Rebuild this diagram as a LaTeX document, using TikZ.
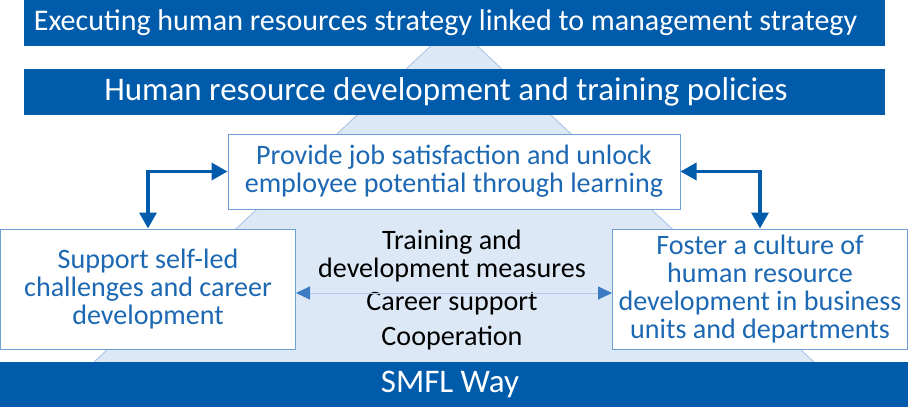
\documentclass[tikz,border=0pt]{standalone}
\usepackage{fontspec}
\setmainfont{Carlito}
\usepackage{tikz}
\usetikzlibrary{arrows.meta}
\usetikzlibrary{positioning}
\definecolor{smflblue}{HTML}{005BAB}
\definecolor{goaltext}{HTML}{1C68B3}
\definecolor{goalline}{HTML}{6E9FD6}
\definecolor{pyramid}{HTML}{DDE8F6}
\definecolor{pyramidedge}{HTML}{A6C1E5}
\definecolor{thinline}{HTML}{B3CBEB}
\definecolor{thintip}{HTML}{3A7BC4}

\begin{document}
\begin{tikzpicture}[x=1pt,y=-1pt,
        bar/.style={fill=smflblue, text=white, inner sep=0pt, minimum height=46pt,
            font=\fontsize{33}{33}\selectfont},
        goal/.style={draw=goalline, line width=1pt, fill=white, text=goaltext,
            align=center, inner sep=0pt, font=\fontsize{28.1}{28}\selectfont},
        link/.style={draw=smflblue, line width=3.5pt,
            {Triangle[length=16pt,width=17pt]}-{Triangle[length=16pt,width=17pt]}},
        thinlink/.style={draw=thinline, line width=1pt,
            {Triangle[length=14pt,width=13pt,color=thintip]}-{Triangle[length=14pt,width=13pt,color=thintip]}}
    ]
        \useasboundingbox (0,0) rectangle (908,407);
        % pyramid behind everything
        \draw[pyramidedge, fill=pyramid, line width=0.8pt] (454,24) -- (92,364) -- (816,364) -- cycle;

        \node[bar, minimum width=861pt, font=\fontsize{30}{30}\selectfont] (strategy) at (454.5,22.5)
            {\hspace*{-18pt}Executing human resources strategy linked to management strategy};
        \node[bar, minimum width=861pt] (policies) at (454.5,92)
            {\hspace*{-17pt}Human resource development and training policies};
        \node[bar, minimum width=908pt, minimum height=45pt] (way) at (454,384.5)
            {\hspace*{-8pt}SMFL Way};

        \node[goal, minimum width=452pt, minimum height=75pt] (learning) at (454,171.5)
            {Provide job satisfaction and unlock\\employee potential through learning};
        \node[goal, minimum width=295pt, minimum height=120pt] (selfled) at (148,289)
            {Support self-led\\challenges and career\\development};
        \node[goal, minimum width=295pt, minimum height=120pt] (culture) at (760,289)
            {Foster a culture of\\human resource\\development in business\\units and departments};

        \node[align=center, inner sep=0pt, font=\fontsize{28.1}{28}\selectfont] (measures) at (452,290)
            {Training and\\development measures\\[5pt]Career support\\[7pt]Cooperation};

        \draw[link] (learning.west) -| (selfled.north);
        \draw[link] (learning.east) -| (culture.north);
        \draw[thinlink] ([yshift=-4pt]selfled.east) -- ([yshift=-4pt]culture.west);
    \end{tikzpicture}
\end{document}
